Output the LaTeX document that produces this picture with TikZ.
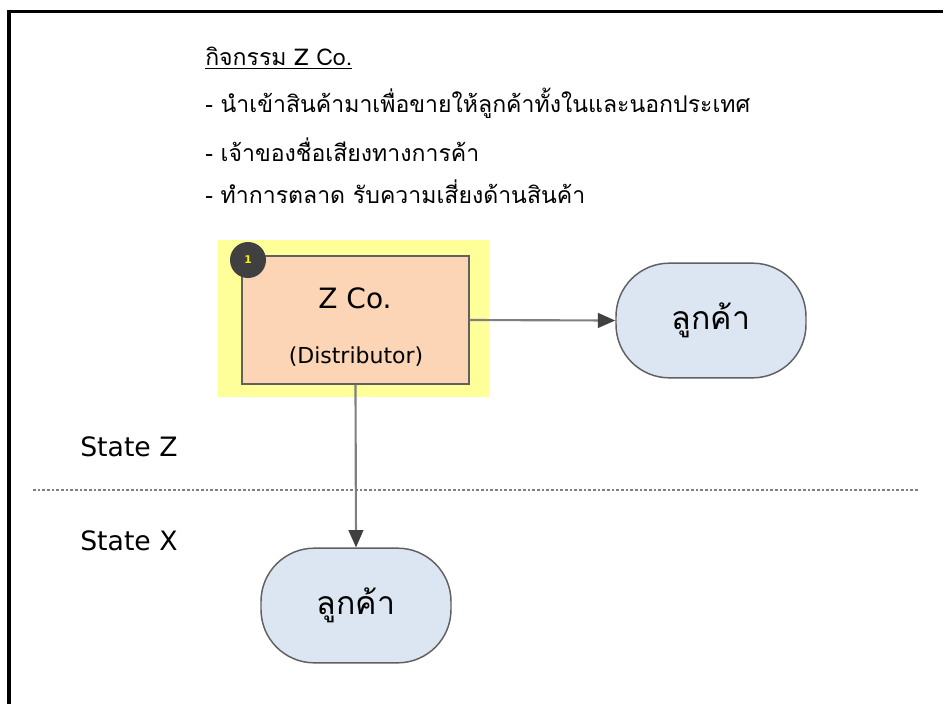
\documentclass[tikz,border=0pt]{standalone}
\usepackage{fontspec}
\newfontfamily\thaifont[Script=Thai]{Loma}
\setmainfont{DejaVu Sans}
\usetikzlibrary{arrows.meta}
\definecolor{hiyel}{HTML}{FFFF99}
\definecolor{peach}{HTML}{FBD5B5}
\definecolor{pale}{HTML}{DCE6F2}
\definecolor{edge}{HTML}{7F7F7F}
\definecolor{boxedge}{HTML}{606060}
\definecolor{badge}{HTML}{404040}
\tikzset{
  custnode/.style={draw=boxedge, line width=1.1pt, fill=pale, rounded corners=40pt,
    minimum width=142.5pt, minimum height=86pt, inner sep=0pt, font=\thaifont\fontsize{24}{28}\selectfont},
  flowarrow/.style={draw=edge, line width=1.6pt, -{Triangle[length=13pt,width=11pt,fill=badge,color=badge]}},
  thaitext/.style={anchor=west, inner sep=0pt, font=\thaifont\fontsize{17.3}{20}\selectfont},
  statelbl/.style={anchor=west, inner sep=0pt, font=\fontsize{20}{24}\selectfont}
}
\begin{document}
\begin{tikzpicture}[x=0.75pt,y=-0.75pt]
\useasboundingbox (0,0) rectangle (943,704);
% frame
\draw[line width=2.8pt] (9,704) -- (9,11.5) -- (943,11.5);
% title and bullets
\node[thaitext] (title) at (205,58) {\underline{กิจกรรม Z Co.}};
\node[thaitext] (l1) at (205,103) {- นำเข้าสินค้ามาเพื่อขายให้ลูกค้าทั้งในและนอกประเทศ};
\node[thaitext] (l2) at (205,150) {- เจ้าของชื่อเสียงทางการค้า};
\node[thaitext] (l3) at (205,192) {- ทำการตลาด รับความเสี่ยงด้านสินค้า};
% highlight
\fill[hiyel] (218,240) rectangle (489,397);
% main box
\node[draw=boxedge, line width=1.1pt, fill=peach, minimum width=170pt, minimum height=96pt, inner sep=0pt] (zco) at (355.5,320) {};
\node[font=\fontsize{21}{25}\selectfont, inner sep=0pt] (zname) at (355,298) {Z Co.};
\node[font=\fontsize{16.5}{20}\selectfont, inner sep=0pt] (zrole) at (356,357) {(Distributor)};
% badge
\node[circle, fill=badge, minimum size=27pt, inner sep=0pt, text=yellow, font=\bfseries\fontsize{8}{9}\selectfont] (badge) at (248,260) {1};
% customer nodes
\node[custnode] (c1) at (711,320.5) {ลูกค้า};
\node[custnode] (c2) at (356,605.5) {ลูกค้า};
% arrows
\draw[flowarrow] (zco.east) -- (c1.west);
\draw[flowarrow] (zco.south) -- (c2.north);
% separator
\coordinate (sepL) at (33,490);
\coordinate (sepR) at (918,490);
\draw[edge, line width=1.2pt, dash pattern=on 2pt off 1.5pt] (sepL) -- (sepR);
% state labels
\node[statelbl] (sz) at (80,447) {State Z};
\node[statelbl] (sx) at (80,541) {State X};
\end{tikzpicture}
\end{document}
